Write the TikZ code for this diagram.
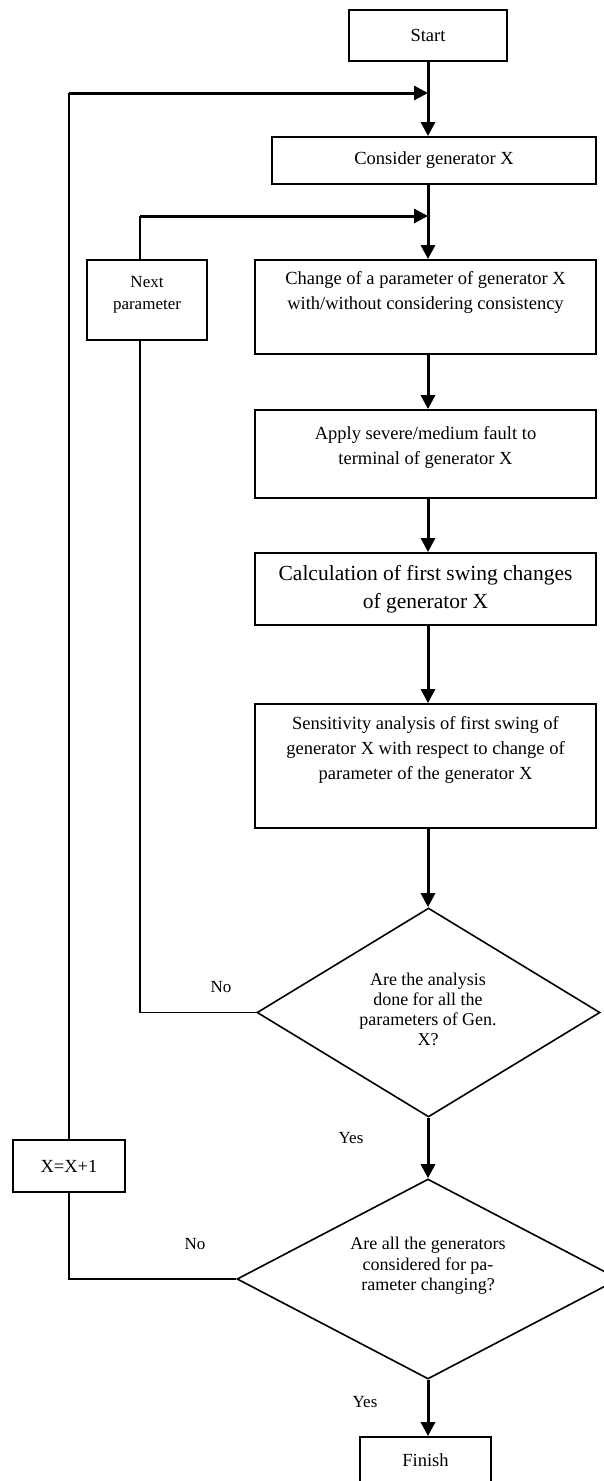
\documentclass[tikz,border=0pt]{standalone}
\usepackage{fontspec}
\setmainfont{Liberation Serif}
\usetikzlibrary{arrows.meta}
\usetikzlibrary{shapes.geometric}
\newcommand{\fsz}[2]{\fontsize{#1}{#2}\selectfont}

\begin{document}
\begin{tikzpicture}[x=1pt, y=-1pt,
    stepbox/.style={draw, line width=1.8pt, inner sep=0pt, align=center, font=\fsz{18.5}{25}},
    decision/.style={draw, diamond, line width=1.6pt, inner sep=0pt},
    txt/.style={align=center, inner sep=0pt, font=\fsz{18.5}{25}},
    lbl/.style={inner sep=0pt, font=\fsz{17}{20}},
    flow/.style={line width=3pt, -{Triangle[length=14pt,width=14pt]}},
    back/.style={line width=1.8pt}]
    \useasboundingbox (0,0) rectangle (603,1481);
    \node[stepbox, minimum width=158pt, minimum height=51pt] (start) at (428,35.5) {Start};
    \node[stepbox, minimum width=324pt, minimum height=47pt] (consider) at (434,160.5) {Consider generator X};
    \node[stepbox, minimum width=341pt, minimum height=94pt] (change) at (425.5,307) {};
    \node[txt] (changet) at (425.5,292.5) {Change of a parameter of generator X\\with/without considering consistency};
    \node[stepbox, minimum width=341pt, minimum height=88pt] (apply) at (425.5,454) {};
    \node[txt] (applyt) at (425.5,447) {Apply severe/medium fault to\\terminal of generator X};
    \node[stepbox, minimum width=341pt, minimum height=72pt, font=\fsz{21.5}{28}] (calc) at (425.5,589) {Calculation of first swing changes\\of generator X};
    \node[stepbox, minimum width=341pt, minimum height=124pt] (sens) at (425.5,766) {};
    \node[txt] (senst) at (425.5,750) {Sensitivity analysis of first swing of\\generator X with respect to change of\\parameter of the generator X};
    \node[stepbox, minimum width=120pt, minimum height=80pt] (next) at (147,300) {};
    \node[txt, font=\fsz{17}{22}] (nextt) at (147,295) {Next\\parameter};
    \node[decision, minimum width=343pt, minimum height=209pt] (d1) at (428.5,1012.5) {};
    \node[txt, font=\fsz{18}{20}] (d1t) at (428,1009) {Are the analysis\\done for all the\\parameters of Gen.\\X?};
    \node[decision, minimum width=382pt, minimum height=200pt] (d2) at (428,1279) {};
    \node[txt, font=\fsz{18}{20.5}] (d2t) at (428,1266) {Are all the generators\\considered for pa-\\rameter changing?};
    \node[stepbox, minimum width=112pt, minimum height=52pt] (xinc) at (69,1166) {X=X+1};
    \node[stepbox, minimum width=131pt, minimum height=46pt] (finish) at (425.5,1460) {Finish};
    \node[lbl] (no1) at (221,987) {No};
    \node[lbl] (yes1) at (351,1138) {Yes};
    \node[lbl] (no2) at (195,1244) {No};
    \node[lbl] (yes2) at (365,1402) {Yes};
    \coordinate (j1) at (428,93);
    \coordinate (j2) at (428,216);
    \coordinate (c2) at (140,216);
    \draw[flow] (start) -- (consider.north -| start);
    \draw[flow] (consider.south -| start) -- (change.north -| start);
    \draw[flow] (change.south -| start) -- (apply.north -| start);
    \draw[flow] (apply.south -| start) -- (calc.north -| start);
    \draw[flow] (calc.south -| start) -- (sens.north -| start);
    \draw[flow] (sens.south -| start) -- (d1.north -| start);
    \draw[flow] (d1.south -| start) -- (d2.north -| start);
    \draw[flow] (d2.south -| start) -- (finish.north -| start);
    \draw[back] (xinc.north) -- (xinc.north |- j1);
    \draw[flow] (xinc.north |- j1) -- (j1);
    \draw[back] (next.north -| c2) -- (c2);
    \draw[flow] (c2) -- (j2);
    \draw[back] (d1.west) -- (d1.west -| c2) -- (next.south -| c2);
    \draw[back] (d2.west) -- (d2.west -| xinc) -- (xinc.south);
\end{tikzpicture}
\end{document}
